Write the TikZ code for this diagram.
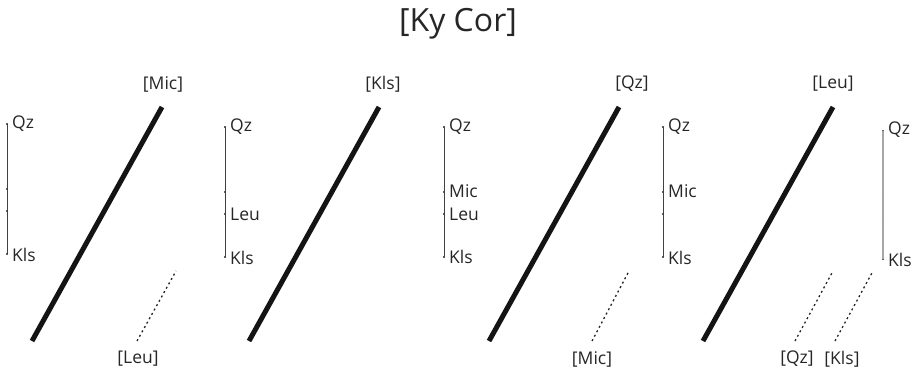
\documentclass[tikz,border=0pt]{standalone}
\usepackage{fontspec}
\setmainfont{Open Sans}
\begin{document}
\begin{tikzpicture}[x=1pt,y=-1pt,
  lbl/.style={anchor=west,inner sep=0pt,font=\fontsize{17.5}{17.5}\selectfont,text=black!85},
  tag/.style={inner sep=0pt,font=\fontsize{17.5}{17.5}\selectfont,text=black!85},
  axis/.style={draw=black!75,line width=0.8pt},
  axisgray/.style={draw=black!35,line width=1.4pt},
  tickdot/.style={circle,fill=black!85,inner sep=0pt,minimum size=2.4pt},
  thick bar/.style={draw=black!92,line width=5pt},
  dotline/.style={draw=black!85,line width=1.3pt,dash pattern=on 2pt off 3pt}]
\useasboundingbox (0,0) rectangle (922,372);
\node[inner sep=0pt,font=\fontsize{32}{32}\selectfont,text=black!85] (title) at (458,24) {[Ky Cor]};
% panel 1
\node[tickdot] (a1) at (7,124) {};
\node[tickdot] (a2) at (7,189) {};
\node[tickdot] (a3) at (7,211) {};
\node[tickdot] (a4) at (7,254) {};
\draw[axis] (a1.center) -- (a4.center);
\node[lbl] (a1l) at (12,124) {Qz};
\node[lbl] (a4l) at (12,255) {Kls};
\coordinate (t1b) at (32,341); \coordinate (t1t) at (162,107);
\draw[thick bar] (t1b) -- (t1t);
\node[tag] (t1l) at (163,84) {[Mic]};
\coordinate (d1b) at (137,341); \coordinate (d1t) at (176,271);
\draw[dotline] (d1b) -- (d1t);
\node[tag] (d1l) at (138,359) {[Leu]};
% panel 2
\node[tickdot] (b1) at (225,127) {};
\node[tickdot] (b2) at (225,192) {};
\node[tickdot] (b3) at (225,214) {};
\node[tickdot] (b4) at (225,257) {};
\draw[axis] (b1.center) -- (b4.center);
\node[lbl] (b1l) at (230,127) {Qz};
\node[lbl] (b3l) at (230,214) {Leu};
\node[lbl] (b4l) at (230,258) {Kls};
\coordinate (t2b) at (249,341); \coordinate (t2t) at (379,107);
\draw[thick bar] (t2b) -- (t2t);
\node[tag] (t2l) at (383,84) {[Kls]};
% panel 3
\node[tickdot] (c1) at (444,127) {};
\node[tickdot] (c2) at (444,192) {};
\node[tickdot] (c3) at (444,214) {};
\node[tickdot] (c4) at (444,257) {};
\draw[axis] (c1.center) -- (c4.center);
\node[lbl] (c1l) at (449,127) {Qz};
\node[lbl] (c2l) at (449,191) {Mic};
\node[lbl] (c3l) at (449,214) {Leu};
\node[lbl] (c4l) at (449,257) {Kls};
\coordinate (t3b) at (489,341); \coordinate (t3t) at (619,107);
\draw[thick bar] (t3b) -- (t3t);
\node[tag] (t3l) at (632,84) {[Qz]};
\coordinate (d3b) at (592,341); \coordinate (d3t) at (629,271);
\draw[dotline] (d3b) -- (d3t);
\node[tag] (d3l) at (592,359) {[Mic]};
% panel 4
\node[tickdot] (e1) at (663,127) {};
\node[tickdot] (e2) at (663,192) {};
\node[tickdot] (e3) at (663,214) {};
\node[tickdot] (e4) at (663,257) {};
\draw[axis] (e1.center) -- (e4.center);
\node[lbl] (e1l) at (668,127) {Qz};
\node[lbl] (e2l) at (668,191) {Mic};
\node[lbl] (e4l) at (668,258) {Kls};
\coordinate (t4b) at (703,341); \coordinate (t4t) at (833,107);
\draw[thick bar] (t4b) -- (t4t);
\node[tag] (t4l) at (833,84) {[Leu]};
\coordinate (d4b) at (795,341); \coordinate (d4t) at (833,271);
\draw[dotline] (d4b) -- (d4t);
\node[tag] (d4l) at (797,359) {[Qz]};
\coordinate (d5b) at (835,341); \coordinate (d5t) at (873,271);
\draw[dotline] (d5b) -- (d5t);
\node[tag] (d5l) at (842,359) {[Kls]};
% panel 5
\node[tickdot] (f1) at (883,131) {};
\node[tickdot] (f2) at (883,196) {};
\node[tickdot] (f3) at (883,217) {};
\node[tickdot] (f4) at (883,259) {};
\draw[axisgray] (f1.center) -- (f4.center);
\node[lbl] (f1l) at (888,130) {Qz};
\node[lbl] (f4l) at (888,260) {Kls};
\end{tikzpicture}
\end{document}
